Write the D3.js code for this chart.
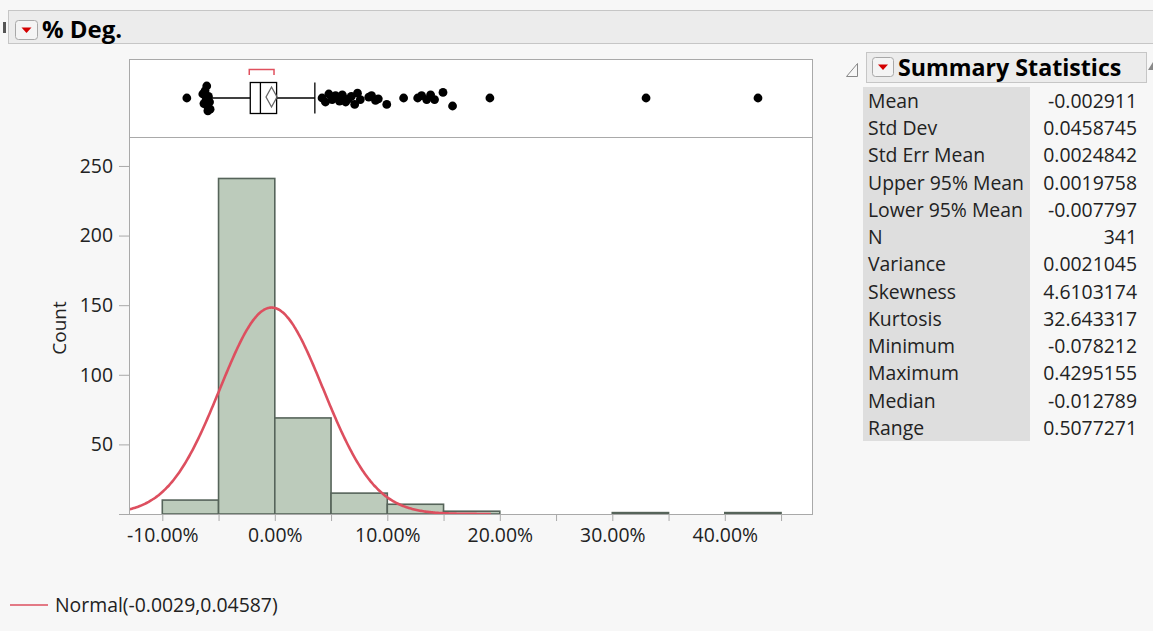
<!DOCTYPE html>
<html><head><meta charset="utf-8">
<script src="https://cdn.jsdelivr.net/npm/d3@7"></script>
<style>
html,body{margin:0;padding:0;background:#f7f7f7;}
svg{display:block;font-family:"Open Sans","Noto Sans",sans-serif;}
</style></head>
<body>
<script>
// ---------- data ----------
const title = "% Deg.";
const binStarts = [-10, -5, 0, 5, 10, 15, 30, 40];   // percent
const binCounts = [10, 241, 69, 15, 7, 2, 1, 1];
const binWidth = 5;
const xTickValues = [-10, 0, 10, 20, 30, 40];
const xTickLabels = ["-10.00%", "0.00%", "10.00%", "20.00%", "30.00%", "40.00%"];
const xMinorTicks = [-10, -5, 0, 5, 10, 15, 20, 25, 30, 35, 40, 45];
const yTickValues = [50, 100, 150, 200, 250];
const normalMean = -0.0029, normalSd = 0.04587, nObs = 341;
const curveRange = [-13.5, 19.2];
const boxQ1 = -2.18, boxMedian = -1.2789, boxQ3 = 0.16;
const whiskerLow = -5.95, whiskerHigh = 3.56;
const meanValue = -0.2911, meanCILow = -0.7797, meanCIHigh = 0.19758;
const shortestHalf = [-2.27, -0.07];
const outlierValues = [-7.82, -6.4, -6.3, -6.2, -6.1, -6.0, -5.9, -5.8, -5.75, -6.05, -5.95,
  4.2, 4.5, 4.8, 5.1, 5.4, 5.75, 6.0, 6.3, 6.55, 6.8, 7.1, 7.35, 7.6, 8.35, 8.6, 8.95, 9.2, 9.95,
  11.45, 12.7, 13.05, 13.5, 13.85, 14.2, 14.95, 15.8, 19.12, 33.0, 42.95];
const outlierJitter = [0, -0.5, 0.7, -0.9, 0.2, 1.0, -0.2, 0.5, 1.4, -1.5, 1.6,
  0, 0.5, -0.5, 0.2, -0.3, 0.4, -0.4, 0.5, 0.1, -0.2, 0.8, -0.6, 0.2, -0.1, -0.3, 0.3, 0.1, 0.8,
  0, 0, -0.3, 0.2, -0.4, 0.2, -0.7, 1.0, 0, 0, 0];
const statLabels = ["Mean","Std Dev","Std Err Mean","Upper 95% Mean","Lower 95% Mean","N","Variance","Skewness","Kurtosis","Minimum","Maximum","Median","Range"];
const statValues = ["-0.002911","0.0458745","0.0024842","0.0019758","-0.007797","341","0.0021045","4.6103174","32.643317","-0.078212","0.4295155","-0.012789","0.5077271"];
const legendLabel = "Normal(-0.0029,0.04587)";

// ---------- layout ----------
const W = 1153, H = 631;
const plotL = 129, plotR = 813, boxTop = 59, histTop = 137, histBottom = 514;
const fs = 19.4;
const svg = d3.select("body").append("svg").attr("width", W).attr("height", H);
svg.append("rect").attr("width", W).attr("height", H).attr("fill", "#f7f7f7");

const x = d3.scaleLinear().domain([-12.96, 47.84]).range([plotL, plotR]);
const y = d3.scaleLinear().domain([0, 270.8]).range([histBottom, histTop]);

function redButton(g, bx, by, w, h) {
  g.append("rect").attr("x", bx).attr("y", by).attr("width", w).attr("height", h)
    .attr("rx", 3).attr("fill", "#f4f4f4").attr("stroke", "#a8a8a8");
  const cx = bx + w / 2, cy = by + h / 2;
  g.append("path").attr("d", `M${cx - 5},${cy - 2.5}L${cx + 5},${cy - 2.5}L${cx},${cy + 3}Z`).attr("fill", "#d40000");
}

// header
svg.append("rect").attr("x", 3).attr("y", 22).attr("width", 3).attr("height", 11).attr("fill", "#555");
svg.append("rect").attr("x", 8.5).attr("y", 10.5).attr("width", 1160).attr("height", 33)
  .attr("fill", "#ececec").attr("stroke", "#c6c6c6");
redButton(svg, 15.5, 20.5, 22, 19);
svg.append("text").attr("x", 42).attr("y", 38).attr("font-size", 24).attr("font-weight", "bold")
  .attr("fill", "#000").text(title);

// plot backgrounds
svg.append("rect").attr("x", plotL).attr("y", boxTop).attr("width", plotR - plotL).attr("height", histBottom - boxTop).attr("fill", "#fff");

// histogram bars
svg.append("g").selectAll("rect").data(binStarts).join("rect")
  .attr("x", d => x(d)).attr("width", d => x(d + binWidth) - x(d))
  .attr("y", (d, i) => y(binCounts[i])).attr("height", (d, i) => y(0) - y(binCounts[i]))
  .attr("fill", "#bccbbb").attr("stroke", "#56645a").attr("stroke-width", 1.6);

// normal curve
const pdf = v => Math.exp(-0.5 * Math.pow((v - normalMean) / normalSd, 2)) / (normalSd * Math.sqrt(2 * Math.PI));
const curvePts = d3.range(curveRange[0], curveRange[1] + 0.001, 0.1).map(p => [p, nObs * (binWidth / 100) * pdf(p / 100)]);
svg.append("clipPath").attr("id", "clip").append("rect").attr("x", plotL).attr("y", histTop).attr("width", plotR - plotL).attr("height", histBottom - histTop);
svg.append("path").datum(curvePts).attr("clip-path", "url(#clip)")
  .attr("d", d3.line().x(d => x(d[0])).y(d => y(d[1])).curve(d3.curveBasis))
  .attr("fill", "none").attr("stroke", "#dd4f5f").attr("stroke-width", 2.6);

// frames / axes
const frameColor = "#a9a9a9";
svg.append("rect").attr("x", plotL + 0.5).attr("y", boxTop + 0.5).attr("width", plotR - plotL - 1).attr("height", histTop - boxTop)
  .attr("fill", "none").attr("stroke", frameColor);
svg.append("line").attr("x1", plotR - 0.5).attr("x2", plotR - 0.5).attr("y1", histTop).attr("y2", histBottom).attr("stroke", frameColor);

const yAxis = svg.append("g").attr("transform", `translate(${plotL},0)`)
  .call(d3.axisLeft(y).tickValues(yTickValues).tickSize(10).tickPadding(6).tickSizeOuter(0));
yAxis.select(".domain").attr("stroke", frameColor).attr("d", `M0.5,${histTop}V${histBottom}`);
yAxis.selectAll(".tick line").attr("stroke", frameColor);
yAxis.selectAll("text").attr("font-size", fs).attr("fill", "#222").attr("font-family", "Open Sans");

const xAxis = svg.append("g").attr("transform", `translate(0,${histBottom})`)
  .call(d3.axisBottom(x).tickValues(xMinorTicks).tickSize(7).tickFormat(() => "").tickSizeOuter(0));
xAxis.select(".domain").attr("stroke", frameColor).attr("d", `M${plotL - 10},0.5H${plotR}`);
xAxis.selectAll(".tick line").attr("stroke", frameColor);
const xLab = svg.append("g").attr("transform", `translate(0,${histBottom})`)
  .call(d3.axisBottom(x).tickValues(xTickValues).tickSize(0).tickPadding(14)
    .tickFormat((d, i) => xTickLabels[i]));
xLab.select(".domain").remove();
xLab.selectAll("text").attr("font-size", fs).attr("fill", "#222").attr("font-family", "Open Sans");

svg.append("text").attr("transform", "translate(66,328) rotate(-90)").attr("text-anchor", "middle")
  .attr("font-size", 19).attr("fill", "#222").text("Count");

// box plot
const by = 98, bh = 31;
const bx = svg.append("g");
bx.append("line").attr("x1", x(whiskerLow)).attr("x2", x(boxQ1)).attr("y1", by).attr("y2", by).attr("stroke", "#000").attr("stroke-width", 1.3);
bx.append("line").attr("x1", x(boxQ3)).attr("x2", x(whiskerHigh)).attr("y1", by).attr("y2", by).attr("stroke", "#000").attr("stroke-width", 1.3);
[whiskerLow, whiskerHigh].forEach(v => bx.append("line").attr("x1", x(v)).attr("x2", x(v)).attr("y1", by - bh / 2).attr("y2", by + bh / 2).attr("stroke", "#000").attr("stroke-width", 1.3));
bx.append("rect").attr("x", x(boxQ1)).attr("y", by - bh / 2).attr("width", x(boxQ3) - x(boxQ1)).attr("height", bh)
  .attr("fill", "#fff").attr("stroke", "#000").attr("stroke-width", 1.3);
bx.append("line").attr("x1", x(boxMedian)).attr("x2", x(boxMedian)).attr("y1", by - bh / 2).attr("y2", by + bh / 2).attr("stroke", "#000").attr("stroke-width", 1.3);
bx.append("path").attr("d", `M${x(meanCILow)},${by - 1}L${x(meanValue)},${by - 11}L${x(meanCIHigh)},${by - 1}L${x(meanValue)},${by + 9}Z`)
  .attr("fill", "none").attr("stroke", "#666").attr("stroke-width", 1.3);
bx.append("path").attr("d", `M${x(shortestHalf[0])},75V69.5H${x(shortestHalf[1])}V75`)
  .attr("fill", "none").attr("stroke", "#e0505e").attr("stroke-width", 1.5);
bx.selectAll("circle").data(outlierValues).join("circle")
  .attr("cx", d => x(d)).attr("cy", (d, i) => by + outlierJitter[i] * 8).attr("r", 4.4).attr("fill", "#000");

// summary statistics
const sg = svg.append("g");
sg.append("path").attr("d", "M857.5,63.5V76.5H846.5Z").attr("fill", "none").attr("stroke", "#888");
sg.append("rect").attr("x", 866.5).attr("y", 52.5).attr("width", 280).attr("height", 30)
  .attr("fill", "#ececec").attr("stroke", "#c6c6c6");
redButton(sg, 872.5, 57.5, 21, 19);
sg.append("text").attr("x", 898).attr("y", 76).attr("font-size", 23.2).attr("font-weight", "bold").attr("fill", "#000").text("Summary Statistics");
sg.append("path").attr("d", "M1153,62L1148,70H1153Z").attr("fill", "#888");
sg.append("rect").attr("x", 863).attr("y", 87).attr("width", 167).attr("height", 354).attr("fill", "#dedede");
const rowY = d3.scaleLinear().domain([0, 12]).range([101, 428]);
sg.selectAll("text.lab").data(statLabels).join("text").attr("class", "lab")
  .attr("x", 868).attr("y", (d, i) => rowY(i)).attr("dy", "0.35em")
  .attr("font-size", fs).attr("fill", "#222").text(d => d);
sg.selectAll("text.val").data(statValues).join("text").attr("class", "val")
  .attr("x", 1137).attr("y", (d, i) => rowY(i)).attr("dy", "0.35em").attr("text-anchor", "end")
  .attr("font-size", fs).attr("fill", "#222").text(d => d);

// legend
svg.append("line").attr("x1", 10).attr("x2", 48).attr("y1", 605).attr("y2", 605).attr("stroke", "#dd4f5f").attr("stroke-width", 1.5);
svg.append("text").attr("x", 55).attr("y", 605).attr("dy", "0.35em").attr("font-size", fs).attr("fill", "#222").text(legendLabel);
</script>
</body></html>
